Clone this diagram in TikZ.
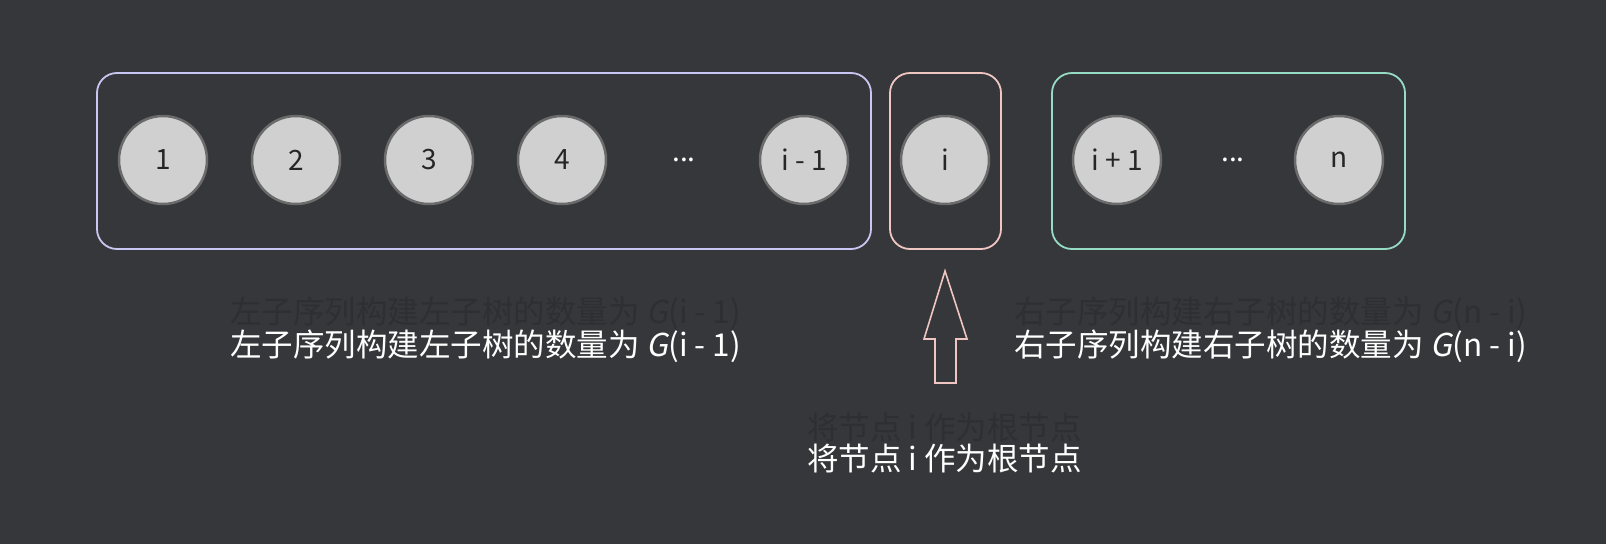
\documentclass[tikz,border=0pt]{standalone}
\usepackage{fontspec}
\setmainfont{Noto Sans CJK SC}
\newfontfamily\cjk{Noto Sans CJK SC}
\newfontfamily\cjkslant[FakeSlant=0.2]{Noto Sans CJK SC}
\usetikzlibrary{positioning}
\definecolor{bgdark}{HTML}{36373A}
\definecolor{ghostgray}{HTML}{2E2F32}
\definecolor{leftline}{HTML}{C8C6F2}
\definecolor{midline}{HTML}{F0C6C2}
\definecolor{rightline}{HTML}{96DCC4}
\definecolor{ballfill}{HTML}{D0D0D0}
\definecolor{ballline}{HTML}{6B6B6B}
\begin{document}
\begin{tikzpicture}[x=1pt, y=-1pt, node distance=133pt,
    ball/.style = {draw=ballline, line width=2.5pt, fill=ballfill, circle, minimum size=88pt, inner sep=0pt, text=black!85, font=\cjk\fontsize{28}{30}\selectfont},
    dots/.style = {text=white, font=\cjk\fontsize{28}{30}\selectfont},
    group/.style = {line width=1.8pt, rounded corners=20pt},
    caption/.style = {anchor=west, inner sep=0pt, font=\cjk\fontsize{31.5}{36}\selectfont},
    ghost/.style = {caption, text=ghostgray},
    label/.style = {caption, text=white}]
  \fill[bgdark] (0,0) rectangle (1606,544);
  \useasboundingbox (0,0) rectangle (1606,544);
  % groups
  \draw[group, leftline] (97,73) rectangle (871,249);
  \draw[group, midline] (890,73) rectangle (1001,249);
  \draw[group, rightline] (1052,73) rectangle (1405,249);
  % left sequence
  \node[ball] (1) at (163,160) {1};
  \node[ball] (2) [right of=1] {2};
  \node[ball] (3) [right of=2] {3};
  \node[ball] (4) [right of=3] {4};
  \node[dots] (ldots) at (684,160) {...};
  \node[ball] (im1) at (804,160) {i - 1};
  % root
  \node[ball] (i) at (945,160) {i};
  % right sequence
  \node[ball] (ip1) at (1117,160) {i + 1};
  \node[dots] (rdots) at (1233,160) {...};
  \node[ball] (n) at (1339,160) {n};
  % arrow
  \draw[midline, line width=1.6pt, line join=miter]
    (945,271) -- (967,339) -- (956,339) -- (956,383) -- (935,383)
    -- (935,339) -- (924,339) -- cycle;
  % captions
  \node[ghost] (lghost) at (230,313) {左子序列构建左子树的数量为 {\cjkslant G}(i - 1)};
  \node[label] (ltext) at (230,346) {左子序列构建左子树的数量为 {\cjkslant G}(i - 1)};
  \node[ghost] (rghost) at (1014,313) {右子序列构建右子树的数量为 {\cjkslant G}(n - i)};
  \node[label] (rtext) at (1014,346) {右子序列构建右子树的数量为 {\cjkslant G}(n - i)};
  \node[ghost] (bghost) at (807,428) {将节点 i 作为根节点};
  \node[label] (btext) at (807,459) {将节点 i 作为根节点};
\end{tikzpicture}
\end{document}
